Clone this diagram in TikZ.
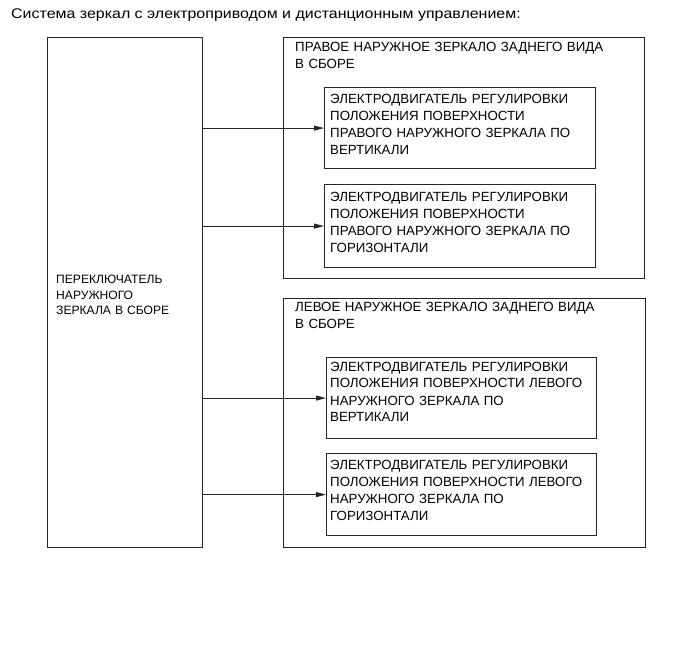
\documentclass[tikz,border=0pt]{standalone}
\usepackage{fontspec}
\setmainfont{Liberation Sans}
\newfontfamily\titlefont[FakeStretch=1.14]{Liberation Sans}
\usetikzlibrary{arrows.meta}
\begin{document}
\begin{tikzpicture}[
  x=1pt, y=-1pt,
  frame/.style={rectangle, draw=black!85, line width=1.2pt, inner sep=0pt,
                anchor=north west},
  txt/.style={anchor=base west, inner sep=0pt, align=left, text width=320pt,
              font=\fontsize{13.3}{17}\selectfont},
  arr/.style={-{Triangle[length=10pt, width=5pt]}, line width=0.8pt, draw=black!85}
]
\useasboundingbox (0,0) rectangle (691,660);
\node[anchor=base west, inner sep=0pt, font=\titlefont\fontsize{14}{16}\selectfont] (title) at (11,19)
  {Система зеркал с электроприводом и дистанционным управлением:};
% switch
\node[frame, minimum width=155pt, minimum height=510pt] (sw) at (47,37) {};
\node[txt, font=\fontsize{12.1}{15.5}\selectfont] (sw-txt) at (56,284)
  {ПЕРЕКЛЮЧАТЕЛЬ\\НАРУЖНОГО\\ЗЕРКАЛА В СБОРЕ};
% right mirror
\node[frame, minimum width=361pt, minimum height=241pt] (rmir) at (283,37) {};
\node[txt] (rmir-txt) at (295,52) {ПРАВОЕ НАРУЖНОЕ ЗЕРКАЛО ЗАДНЕГО ВИДА\\В СБОРЕ};
\node[frame, minimum width=271pt, minimum height=81pt] (rv) at (324,87) {};
\node[txt] (rv-txt) at (330,104)
  {ЭЛЕКТРОДВИГАТЕЛЬ РЕГУЛИРОВКИ\\ПОЛОЖЕНИЯ ПОВЕРХНОСТИ\\ПРАВОГО НАРУЖНОГО ЗЕРКАЛА ПО\\ВЕРТИКАЛИ};
\node[frame, minimum width=271pt, minimum height=83pt] (rh) at (324,184) {};
\node[txt] (rh-txt) at (330,202)
  {ЭЛЕКТРОДВИГАТЕЛЬ РЕГУЛИРОВКИ\\ПОЛОЖЕНИЯ ПОВЕРХНОСТИ\\ПРАВОГО НАРУЖНОГО ЗЕРКАЛА ПО\\ГОРИЗОНТАЛИ};
% left mirror
\node[frame, minimum width=362pt, minimum height=249pt] (lmir) at (283,298) {};
\node[txt] (lmir-txt) at (295,312) {ЛЕВОЕ НАРУЖНОЕ ЗЕРКАЛО ЗАДНЕГО ВИДА\\В СБОРЕ};
\node[frame, minimum width=270pt, minimum height=81pt] (lv) at (326,357) {};
\node[txt] (lv-txt) at (330,371)
  {ЭЛЕКТРОДВИГАТЕЛЬ РЕГУЛИРОВКИ\\ПОЛОЖЕНИЯ ПОВЕРХНОСТИ ЛЕВОГО\\НАРУЖНОГО ЗЕРКАЛА ПО\\ВЕРТИКАЛИ};
\node[frame, minimum width=270pt, minimum height=82pt] (lh) at (326,453) {};
\node[txt] (lh-txt) at (330,469)
  {ЭЛЕКТРОДВИГАТЕЛЬ РЕГУЛИРОВКИ\\ПОЛОЖЕНИЯ ПОВЕРХНОСТИ ЛЕВОГО\\НАРУЖНОГО ЗЕРКАЛА ПО\\ГОРИЗОНТАЛИ};
% connectors
\draw[arr] (sw.east |- rv.west) -- (rv.west);
\draw[arr] (sw.east |- rh.west) -- (rh.west);
\draw[arr] (sw.east |- lv.west) -- (lv.west);
\draw[arr] (sw.east |- lh.west) -- (lh.west);
\end{tikzpicture}
\end{document}
